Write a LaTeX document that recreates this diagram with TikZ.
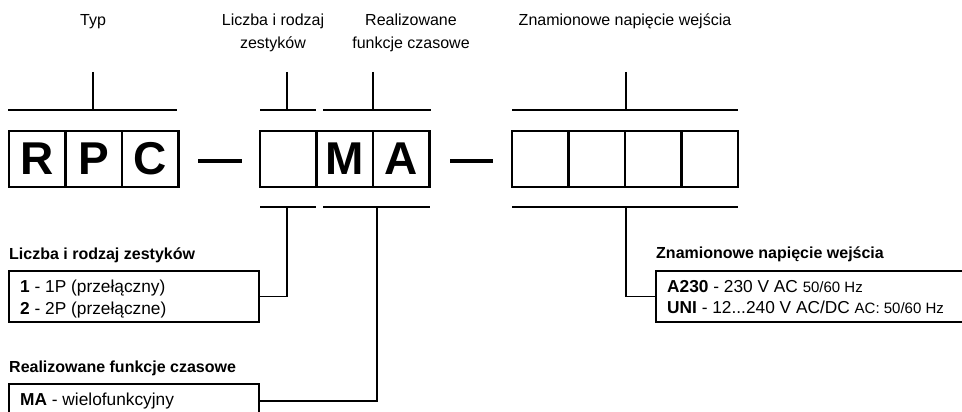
\documentclass[tikz,border=0pt]{standalone}
\usepackage{fontspec}
\setmainfont{Liberation Sans}
\begin{document}
\begin{tikzpicture}[x=1pt,y=-1pt,
  cell/.style={draw,line width=2.6pt,minimum width=56.5pt,minimum height=56pt,inner sep=0pt,outer sep=0pt,font=\fontsize{46}{46}\selectfont\bfseries},
  lab/.style={anchor=base,inner sep=0pt,font=\fontsize{16}{19}\selectfont},
  title/.style={anchor=base west,inner sep=0pt,font=\fontsize{16}{19}\selectfont\bfseries},
  txt/.style={anchor=base west,inner sep=0pt,font=\fontsize{17.3}{20}\selectfont},
  small/.style={font=\fontsize{15}{18}\selectfont},
  infobox/.style={draw,line width=1.2pt,anchor=north west,minimum width=250pt,minimum height=51pt,inner sep=0pt,outer sep=0pt},
  bracket/.style={line width=1.8pt},
  tick/.style={line width=1.6pt},
  conn/.style={line width=1.2pt},
  dashline/.style={line width=4.5pt}]
\useasboundingbox (0,0) rectangle (962,412);
% cells
\node[cell] (c1) at (37.25,159) {R};
\node[cell] (c2) at (93.75,159) {P};
\node[cell] (c3) at (150.25,159) {C};
\node[cell] (c4) at (288.25,159) {};
\node[cell] (c5) at (344.75,159) {M};
\node[cell] (c6) at (401.25,159) {A};
\node[cell] (c7) at (540.25,159) {};
\node[cell] (c8) at (596.75,159) {};
\node[cell] (c9) at (653.25,159) {};
\node[cell] (c10) at (709.75,159) {};
% dashes
\coordinate (d1a) at (198,161); \coordinate (d1b) at (242,161);
\coordinate (d2a) at (450,161); \coordinate (d2b) at (493,161);
\draw[dashline] (d1a) -- (d1b);
\draw[dashline] (d2a) -- (d2b);
% top labels
\node[lab] (t1) at (93,26) {Typ};
\node[lab] (t2a) at (273,26) {Liczba i rodzaj};
\node[lab] (t2b) at (273,49) {zestyków};
\node[lab] (t3a) at (411,26) {Realizowane};
\node[lab] (t3b) at (411,49) {funkcje czasowe};
\node[lab] (t4) at (625,26) {Znamionowe napięcie wejścia};
% top brackets
\coordinate (k1a) at (8,110); \coordinate (k1b) at (177,110);
\coordinate (k1t) at (93,72); \coordinate (k1m) at (93,110);
\draw[bracket] (k1a) -- (k1b); \draw[tick] (k1t) -- (k1m);
\coordinate (k2a) at (260,110); \coordinate (k2b) at (316,110);
\coordinate (k2t) at (287,72); \coordinate (k2m) at (287,110);
\draw[bracket] (k2a) -- (k2b); \draw[tick] (k2t) -- (k2m);
\coordinate (k3a) at (323,110); \coordinate (k3b) at (431,110);
\coordinate (k3t) at (373,72); \coordinate (k3m) at (373,110);
\draw[bracket] (k3a) -- (k3b); \draw[tick] (k3t) -- (k3m);
\coordinate (k4a) at (512,110); \coordinate (k4b) at (738,110);
\coordinate (k4t) at (626,72); \coordinate (k4m) at (626,110);
\draw[bracket] (k4a) -- (k4b); \draw[tick] (k4t) -- (k4m);
% bottom brackets
\coordinate (m2a) at (260,207); \coordinate (m2b) at (316,207); \coordinate (m2m) at (287,207);
\coordinate (m3a) at (323,207); \coordinate (m3b) at (430,207); \coordinate (m3m) at (377,207);
\coordinate (m4a) at (512,207); \coordinate (m4b) at (738,207); \coordinate (m4m) at (626,207);
\draw[bracket] (m2a) -- (m2b);
\draw[bracket] (m3a) -- (m3b);
\draw[bracket] (m4a) -- (m4b);
% info boxes
\node[title] (h1) at (9,259) {Liczba i rodzaj zestyków};
\node[infobox] (b1) at (9,271) {};
\node[txt] (l1a) at (20,292) {\textbf{1} - 1P (przełączny)};
\node[txt] (l1b) at (20,314) {\textbf{2} - 2P (przełączne)};
\node[title] (h2) at (9,372) {Realizowane funkcje czasowe};
\node[infobox] (b2) at (9,384) {};
\node[txt] (l2a) at (20,405) {\textbf{MA} - wielofunkcyjny};
\node[title] (h3) at (656,258) {Znamionowe napięcie wejścia};
\node[infobox,minimum width=330pt] (b3) at (656,271) {};
\node[txt] (l3a) at (667,292) {\textbf{A230} - 230 V AC {\fontsize{15}{18}\selectfont 50/60 Hz}};
\node[txt] (l3b) at (667,313) {\textbf{UNI} - 12...240 V AC/DC {\fontsize{15}{18}\selectfont AC: 50/60 Hz}};
% connectors
\coordinate (b2e) at (259,401);
\draw[conn] (b1.east) -| (m2m);
\draw[conn] (b2e) -| (m3m);
\draw[conn] (m4m) |- (b3.west);
\end{tikzpicture}
\end{document}
